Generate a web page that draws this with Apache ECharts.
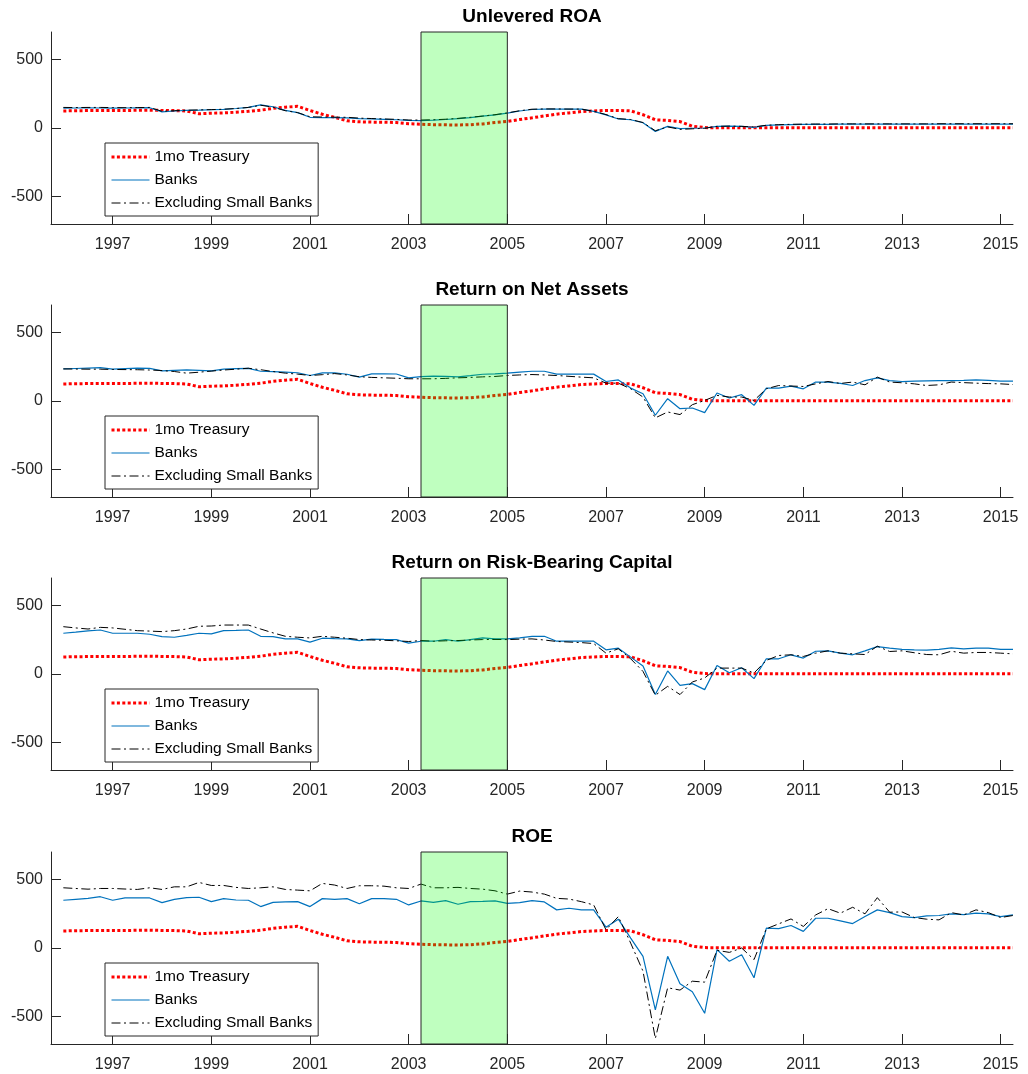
<!DOCTYPE html>
<html>
<head>
<meta charset="utf-8">
<title>Bank returns vs 1mo Treasury</title>
<script src="https://cdn.jsdelivr.net/npm/echarts@6/dist/echarts.min.js"></script>
<style>
  html, body { margin: 0; padding: 0; background: #fff; }
  #chart { width: 1028px; height: 1074px; }
</style>
</head>
<body>
<div id="chart"></div>
<script>
// Quarterly observations, 1996Q1 .. 2015Q2
const firstYear = 1996;
const nQuarters = 78;
const quarters = [];
for (let i = 0; i < nQuarters; i++) quarters.push(firstYear + i / 4);

const panelTitles = ['Unlevered ROA', 'Return on Net Assets', 'Return on Risk-Bearing Capital', 'ROE'];
const legendNames = ['1mo Treasury', 'Banks', 'Excluding Small Banks'];
const xTicks = [1997, 1999, 2001, 2003, 2005, 2007, 2009, 2011, 2013, 2015];
const yTicks = [-500, 0, 500];
const shadedPeriod = [2003.25, 2005];

// 1mo Treasury (same in every panel)
const treasury = [
  124, 126, 127, 127,  128, 128, 129, 130,  128, 127, 124, 104,  108, 110, 115, 122,
  130, 143, 152, 158,  128, 100, 78, 52,  45, 43, 42, 40,  31, 27, 24, 23,
  22, 24, 30, 40,  48, 62, 74, 88,  101, 110, 120, 124,  128, 128, 125, 97,
  60, 55, 47, 13,  3, 2, 2, 2,  2, 2, 2, 2,  1, 1, 1, 1,
  1, 1, 1, 1,  1, 1, 1, 1,  1, 1, 1, 1,  1, 1
];

// Unlevered ROA
const roaBanks = [
  145, 146, 147, 146,  145, 146, 147, 148,  118, 124, 128, 130,  133, 136, 142, 150,
  168, 155, 128, 112,  78, 75, 75, 74,  68, 66, 63, 60,  55, 54, 57, 62,
  68, 76, 86, 96,  108, 124, 135, 138,  138, 137, 137, 121,  96, 66, 60, 38,
  -25, 12, -5, -2,  0, 12, 13, 12,  5, 19, 23, 25,  26, 27, 27, 28,
  28, 28, 28, 28,  28, 28, 28, 28,  28, 28, 28, 28,  28, 28
];
const roaExSmall = [
  150, 149, 150, 150,  149, 148, 149, 150,  122, 126, 130, 132,  134, 137, 142, 150,
  166, 152, 126, 112,  82, 80, 79, 78,  72, 69, 66, 63,  58, 58, 60, 64,
  70, 78, 87, 97,  110, 126, 137, 139,  139, 138, 138, 122,  98, 68, 62, 40,
  -20, 8, -10, -6,  -2, 12, 14, 12,  8, 20, 24, 27,  28, 29, 29, 30,
  30, 30, 30, 30,  30, 30, 30, 31,  31, 31, 31, 31,  31, 31
];

// Return on Net Assets
const rnaBanks = [
  234, 237, 240, 243,  232, 236, 239, 238,  220, 224, 227, 224,  220, 232, 236, 238,
  217, 214, 210, 206,  186, 205, 205, 195,  174, 198, 198, 197,  169, 178, 181, 180,
  176, 185, 195, 198,  203, 210, 217, 217,  196, 196, 196, 196,  142, 154, 94, 53,
  -104, 17, -56, -51,  -85, 58, 22, 46,  -32, 94, 94, 109,  89, 138, 138, 128,
  113, 149, 169, 149,  142, 145, 147, 148,  149, 151, 154, 150,  145, 145
];
const rnaExSmall = [
  234, 233, 232, 232,  230, 229, 228, 226,  222, 215, 203, 210,  218, 226, 232, 239,
  228, 215, 203, 196,  186, 192, 200, 190,  177, 172, 169, 166,  162, 162, 162, 165,
  169, 172, 176, 179,  186, 190, 193, 190,  186, 180, 174, 169,  130, 130, 89, 29,
  -123, -80, -99, -27,  4, 41, 29, 29,  4, 89, 113, 109,  106, 125, 142, 128,
  138, 118, 174, 138,  133, 125, 113, 118,  138, 134, 130, 127,  125, 120
];

// Return on Risk-Bearing Capital
const rbcBanks = [
  297, 305, 314, 321,  297, 297, 297, 290,  273, 268, 282, 297,  292, 316, 318, 321,
  275, 273, 256, 256,  232, 261, 258, 256,  244, 254, 252, 251,  225, 239, 239, 251,
  239, 250, 263, 256,  256, 263, 275, 275,  239, 239, 239, 239,  176, 188, 123, 58,
  -150, 22, -83, -70,  -114, 62, 9, 46,  -34, 111, 111, 140,  116, 166, 169, 152,
  140, 169, 200, 188,  179, 176, 174, 179,  191, 183, 188, 188,  179, 179
];
const rbcExSmall = [
  345, 336, 328, 340,  336, 326, 316, 313,  309, 316, 328, 348,  350, 357, 357, 357,
  328, 300, 275, 268,  263, 275, 268, 261,  251, 248, 246, 242,  237, 244, 239, 242,
  244, 248, 251, 252,  251, 254, 256, 248,  237, 233, 229, 222,  152, 184, 111, 19,
  -155, -90, -150, -58,  -29, 43, 43, 43,  7, 99, 135, 140,  128, 152, 169, 152,
  147, 142, 203, 164,  169, 155, 142, 140,  166, 152, 157, 157,  152, 147
];

// ROE
const roeBanks = [
  348, 355, 362, 374,  348, 365, 365, 365,  331, 355, 367, 370,  338, 360, 350, 348,
  302, 333, 336, 338,  302, 360, 355, 360,  323, 360, 360, 355,  314, 343, 333, 345,
  319, 338, 340, 343,  326, 331, 345, 336,  278, 290, 278, 278,  152, 210, 72, -61,
  -452, -61, -261, -319,  -476, -12, -97, -49,  -217, 145, 141, 164,  121, 217, 217, 198,
  178, 229, 278, 258,  229, 222, 234, 237,  249, 244, 254, 249,  229, 241
];
const roeExSmall = [
  439, 434, 429, 434,  434, 430, 427, 439,  427, 446, 446, 478,  456, 456, 442, 434,
  439, 446, 427, 422,  417, 471, 459, 434,  454, 454, 451, 439,  434, 466, 439, 439,
  442, 434, 429, 417,  393, 415, 408, 393,  362, 357, 338, 314,  133, 229, 36, -169,
  -660, -290, -307, -242,  -249, -17, -32, 0,  -85, 140, 176, 212,  157, 241, 287, 254,
  297, 249, 367, 261,  263, 222, 210, 205,  258, 241, 278, 258,  222, 237
];

const panelBanks = [roaBanks, rnaBanks, rbcBanks, roeBanks];
const panelExSmall = [roaExSmall, rnaExSmall, rbcExSmall, roeExSmall];

// ---- styles ----
const treasuryLine = { color: '#ff0000', width: 3, type: [3, 2.4], cap: 'butt' };
const banksLine = { color: '#0072BD', width: 1.2, type: 'solid' };
const exSmallLine = { color: '#000000', width: 1, type: [9, 3.5, 2, 3.5] };

// ---- layout ----
const gridTops = [32, 305, 578, 852];
const gridH = 192;
const gridLeft = 51, gridRight = 15;
const plotCenterX = gridLeft + (1028 - gridLeft - gridRight) / 2;
const axisColor = '#262626';
const font = 'Arial, "Liberation Sans", Helvetica, sans-serif';

const pair = (vals) => vals.map((v, i) => [quarters[i], v]);

const option = {
  animation: false,
  backgroundColor: '#fff',
  title: gridTops.map((t, i) => ({
    text: panelTitles[i],
    left: plotCenterX,
    top: t - 25,
    textAlign: 'center',
    padding: 0,
    textStyle: { fontSize: 19, fontWeight: 'bold', color: '#000', fontFamily: font }
  })),
  legend: gridTops.map((t) => ({
    orient: 'vertical',
    left: 105,
    top: t + 111,
    itemWidth: 38,
    itemHeight: 14,
    itemGap: 7,
    padding: [6, 6, 5, 5],
    borderColor: axisColor,
    borderWidth: 1,
    borderRadius: 0,
    backgroundColor: '#fff',
    selectedMode: false,
    itemStyle: { opacity: 0 },
    textStyle: { fontSize: 15.5, color: '#000', fontFamily: font },
    data: [
      { name: legendNames[0], lineStyle: { width: 3, type: [3, 2.4], cap: 'butt' } },
      { name: legendNames[1], lineStyle: { width: 1.2 } },
      { name: legendNames[2], lineStyle: { width: 1 } }
    ]
  })),
  grid: gridTops.map((t) => ({
    left: gridLeft, right: gridRight, top: t, height: gridH,
    containLabel: false, outerBoundsMode: 'none'
  })),
  xAxis: gridTops.map((t, i) => ({
    type: 'value',
    gridIndex: i,
    min: 1995.75,
    max: 2015.25,
    splitLine: { show: false },
    axisLine: { onZero: false, lineStyle: { color: axisColor, width: 1 } },
    axisTick: { inside: true, length: 10, lineStyle: { color: axisColor }, customValues: xTicks },
    axisLabel: {
      customValues: xTicks, margin: 13, color: axisColor, fontSize: 16, fontFamily: font,
      formatter: (v) => String(v)
    }
  })),
  yAxis: gridTops.map((t, i) => ({
    type: 'value',
    gridIndex: i,
    min: -700,
    max: 700,
    splitLine: { show: false },
    axisLine: { show: true, lineStyle: { color: axisColor, width: 1 } },
    axisTick: { show: true, inside: true, length: 10, lineStyle: { color: axisColor }, customValues: yTicks },
    axisLabel: {
      customValues: yTicks, margin: 8, color: axisColor, fontSize: 16, fontFamily: font,
      formatter: (v) => String(v)
    }
  })),
  series: []
};

gridTops.forEach((t, i) => {
  option.series.push({
    name: legendNames[0], type: 'line', xAxisIndex: i, yAxisIndex: i,
    data: pair(treasury), symbol: 'none', showSymbol: false, z: 2,
    lineStyle: treasuryLine,
    itemStyle: { color: treasuryLine.color }
  });
  option.series.push({
    name: legendNames[1], type: 'line', xAxisIndex: i, yAxisIndex: i,
    data: pair(panelBanks[i]), symbol: 'none', showSymbol: false, z: 3,
    lineStyle: banksLine,
    itemStyle: { color: banksLine.color }
  });
  option.series.push({
    name: legendNames[2], type: 'line', xAxisIndex: i, yAxisIndex: i,
    data: pair(panelExSmall[i]), symbol: 'none', showSymbol: false, z: 4,
    lineStyle: exSmallLine,
    itemStyle: { color: exSmallLine.color },
    markArea: {
      silent: true,
      z: 10,
      itemStyle: { color: 'rgba(0,255,0,0.25)', borderColor: axisColor, borderWidth: 1 },
      data: [[
        { xAxis: shadedPeriod[0], yAxis: -700 },
        { xAxis: shadedPeriod[1], yAxis: 700 }
      ]]
    }
  });
});

const chart = echarts.init(document.getElementById('chart'), null, { renderer: 'canvas' });
chart.setOption(option);
</script>
</body>
</html>
